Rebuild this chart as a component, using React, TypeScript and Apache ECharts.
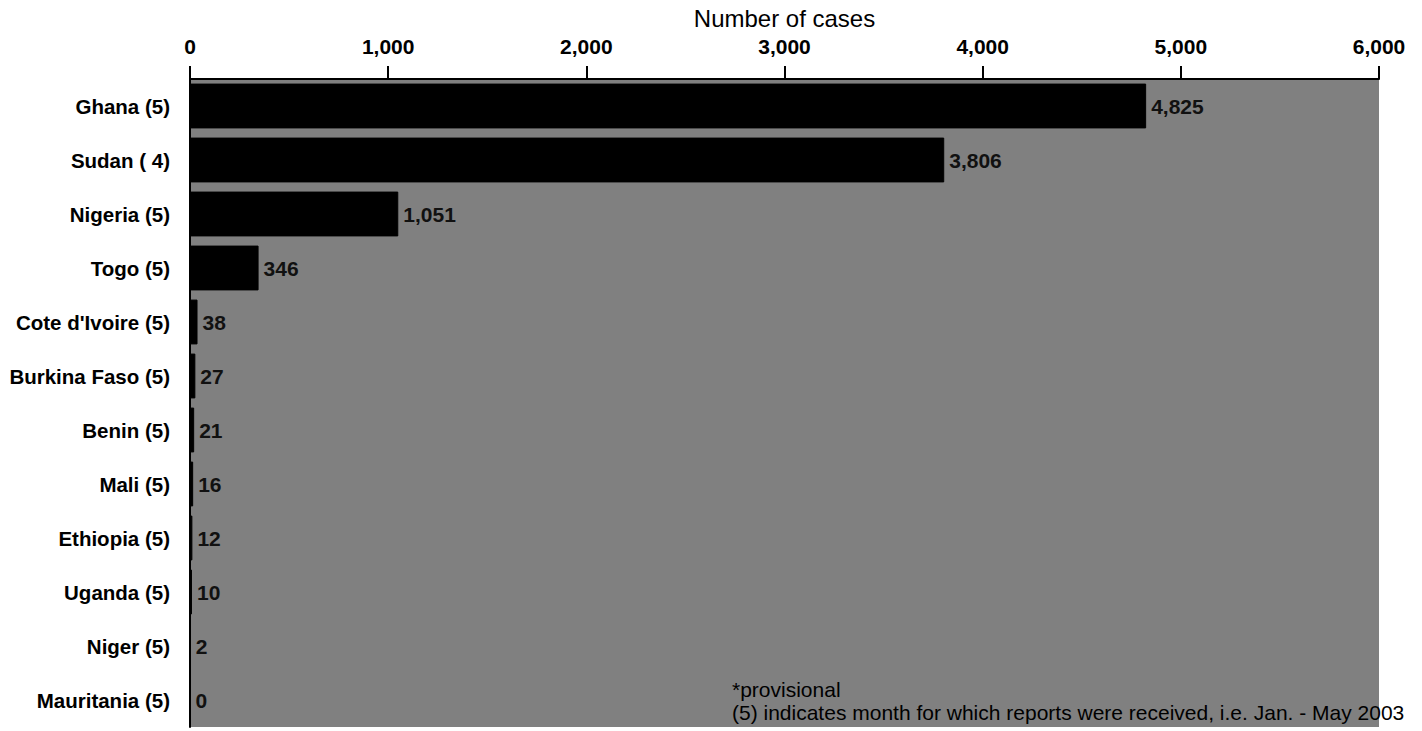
import React, { useEffect, useRef } from "react";
import * as echarts from "echarts";

const countries = [
  "Ghana (5)",
  "Sudan ( 4)",
  "Nigeria (5)",
  "Togo (5)",
  "Cote d'Ivoire (5)",
  "Burkina Faso (5)",
  "Benin (5)",
  "Mali (5)",
  "Ethiopia (5)",
  "Uganda (5)",
  "Niger (5)",
  "Mauritania (5)",
];
const cases = [4825, 3806, 1051, 346, 38, 27, 21, 16, 12, 10, 2, 0];
const axisTitle = "Number of cases";
const footnotes = [
  "*provisional",
  "(5) indicates month for which reports were received, i.e. Jan. - May 2003",
];

const fmt = (v: number) => v.toLocaleString("en-US");
const FONT = "'Liberation Sans', Arial, sans-serif";

export default function App() {
  const ref = useRef<HTMLDivElement>(null);
  useEffect(() => {
    if (!ref.current) return;
    const chart = echarts.init(ref.current, undefined, { renderer: "svg" });
    chart.setOption({
      animation: false,
      textStyle: { fontFamily: FONT },
      grid: {
        left: 190,
        right: 43,
        top: 79,
        bottom: 4,
        show: true,
        backgroundColor: "#808080",
        borderWidth: 0,
        outerBoundsMode: "none",
        containLabel: false,
      },
      xAxis: {
        type: "value",
        position: "top",
        min: 0,
        max: 6000,
        interval: 1000,
        axisLine: { show: true, lineStyle: { color: "#000", width: 2 } },
        axisTick: { show: true, length: 13, lineStyle: { color: "#000", width: 2 } },
        axisLabel: {
          fontSize: 21,
          fontWeight: "bold",
          color: "#000",
          margin: 22,
          fontFamily: FONT,
          formatter: (v: number) => fmt(v),
        },
        splitLine: { show: false },
      },
      yAxis: {
        type: "category",
        data: countries,
        inverse: true,
        axisLine: { show: true, lineStyle: { color: "#000", width: 2 } },
        axisTick: { show: false },
        axisLabel: {
          fontSize: 20.5,
          fontWeight: "bold",
          color: "#000",
          margin: 20,
          fontFamily: FONT,
        },
      },
      series: [
        {
          type: "bar",
          data: cases,
          barCategoryGap: "17%",
          itemStyle: { color: "#000", borderColor: "#000", borderWidth: 1 },
          label: {
            show: true,
            position: "right",
            distance: 5,
            fontSize: 21,
            fontWeight: "bold",
            color: "#111",
            fontFamily: FONT,
            formatter: (p: any) => fmt(p.value),
          },
        },
      ],
      graphic: [
        {
          type: "text",
          x: 784.5,
          y: 18,
          style: {
            text: axisTitle,
            fontSize: 24,
            fill: "#000",
            fontFamily: FONT,
            align: "center",
            verticalAlign: "middle",
          },
        },
        {
          type: "text",
          left: 732,
          top: 678,
          style: {
            text: footnotes.join("\n"),
            fontSize: 21,
            lineHeight: 23,
            fill: "#000",
            fontFamily: FONT,
          },
        },
      ],
    });
    return () => chart.dispose();
  }, []);
  return (
    <div
      ref={ref}
      style={{ position: "fixed", left: 0, top: 0, width: 1422, height: 731, background: "#fff" }}
    />
  );
}
